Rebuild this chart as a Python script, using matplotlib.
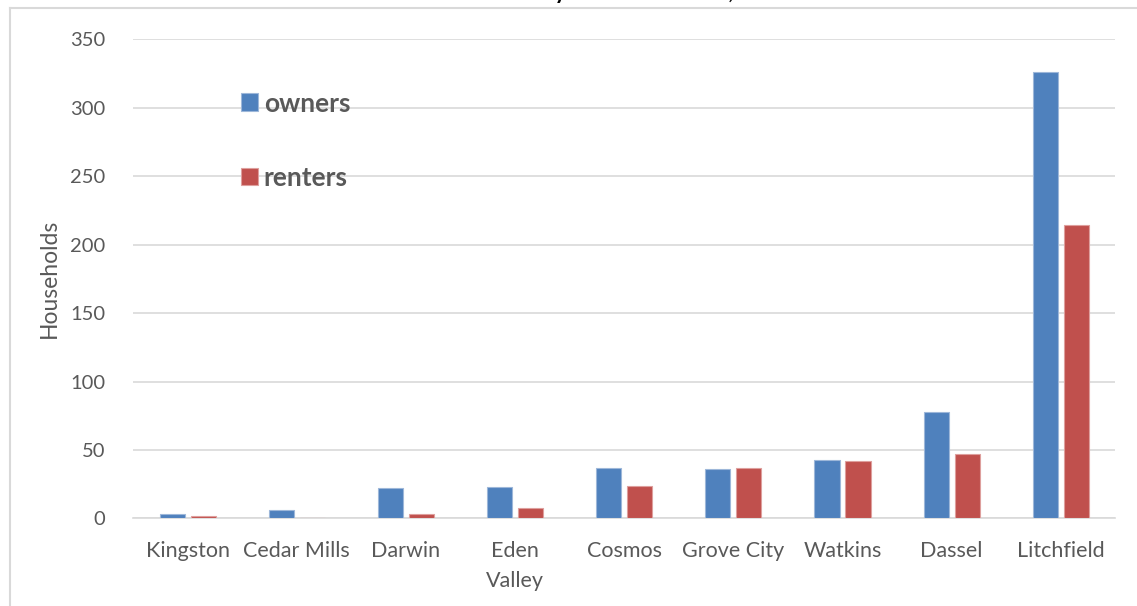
import matplotlib
matplotlib.use("Agg")
import matplotlib.pyplot as plt
from matplotlib.lines import Line2D
import numpy as np

cities = ["Kingston", "Cedar Mills", "Darwin", "Eden\nValley", "Cosmos",
          "Grove City", "Watkins", "Dassel", "Litchfield"]
owners = [3, 6, 22, 23, 37, 36, 43, 78, 326]
renters = [2, 0, 3, 8, 24, 37, 42, 47, 214]
title = "Households by Tenure in Cities, 2010"

BLUE = "#4F81BD"
RED = "#C0504D"
GREY = "#595959"
GRID = "#D9D9D9"

plt.rcParams["font.family"] = ["Lato", "DejaVu Sans"]

fig = plt.figure(figsize=(11.37, 6.06), dpi=100)
ax = fig.add_axes([0.117, 0.1444, 0.864, 0.7912])

x = np.arange(len(cities))
w = 0.23
off = 0.142
ax.bar(x - off, owners, w, color=BLUE, edgecolor="#9DB7D9", linewidth=0.8,
       label="owners", zorder=3)
ax.bar(x + off, renters, w, color=RED, edgecolor="#DE9F9D", linewidth=0.8,
       label="renters", zorder=3)

ax.set_xlim(-0.5, len(cities) - 0.5)
ax.set_ylim(0, 350)
ax.set_yticks(range(0, 351, 50))
ax.set_xticks(x)
ax.set_xticklabels(cities, linespacing=1.65)
ax.grid(axis="y", color=GRID, linewidth=1.2, zorder=0)
for s in ["top", "right", "left"]:
    ax.spines[s].set_visible(False)
ax.spines["bottom"].set_color(GRID)
ax.spines["bottom"].set_linewidth(1.2)
ax.tick_params(axis="both", length=0, labelcolor=GREY)
ax.tick_params(axis="x", pad=16, labelsize=15.5)
ax.tick_params(axis="y", pad=20, labelsize=14.5)
ax.set_ylabel("Households", fontsize=16.5, color=GREY, labelpad=7)

leg = ax.legend(loc="upper left", bbox_to_anchor=(0.086, 0.94), frameon=False,
                prop={"weight": "bold", "size": 19}, labelcolor=GREY,
                labelspacing=1.9, handlelength=0.65, handleheight=0.65,
                handletextpad=0.2)

# title sits mostly above the top edge of the canvas
fig.text(0.532, 1 + 1 / 606, title, ha="center", va="baseline",
         fontsize=16, fontweight="bold", color="black")

# chart area border
fig.add_artist(Line2D([10 / 1137, 1], [1 - 8 / 606, 1 - 8 / 606],
                      color=GRID, linewidth=1.5))
fig.add_artist(Line2D([10 / 1137, 10 / 1137], [0, 1 - 8 / 606],
                      color=GRID, linewidth=1.5))

fig.savefig("out.png", dpi=100)
